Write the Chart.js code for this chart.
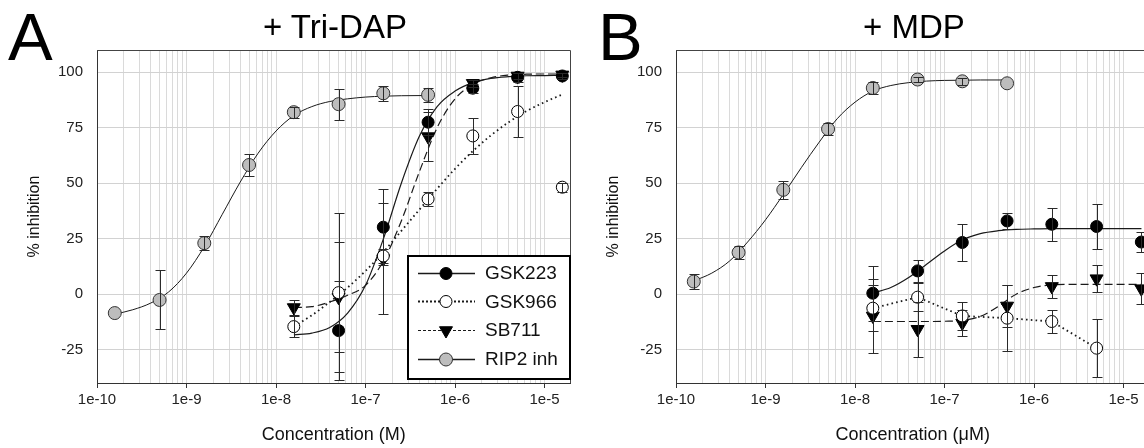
<!DOCTYPE html>
<html>
<head>
<meta charset="utf-8">
<script src="https://cdn.jsdelivr.net/npm/chart.js@4.4.1/dist/chart.umd.min.js"></script>
<style>
html,body{margin:0;padding:0;background:#fff;overflow:hidden;}
body{width:1144px;height:448px;position:relative;font-family:"Liberation Sans",Arial,sans-serif;}
.panel{position:absolute;top:0;width:579px;height:448px;}
.letter{position:absolute;font-size:67px;line-height:67px;top:3px;color:#000;}
.ptitle{position:absolute;font-size:33px;line-height:33px;top:10px;transform:translateX(-50%);white-space:nowrap;color:#000;}
</style>
</head>
<body>
<div class="panel" style="left:0"><canvas id="cA" width="579" height="448"></canvas></div>
<div class="panel" style="left:579px"><canvas id="cB" width="579" height="448"></canvas></div>
<div class="letter" style="left:8px">A</div>
<div class="letter" style="left:598px">B</div>
<div class="ptitle" style="left:335px">+ Tri-DAP</div>
<div class="ptitle" style="left:914px">+ MDP</div>
<script>
// ---------- data ----------
const SERIES = ['GSK223', 'GSK966', 'SB711', 'RIP2 inh'];
const X_TICK_LABELS = ['1e-10', '1e-9', '1e-8', '1e-7', '1e-6', '1e-5'];
const Y_TICKS = [-25, 0, 25, 50, 75, 100];

// Panel A (+ Tri-DAP): measured points, errors
const A_RIP2_X = [1.58e-10, 5e-10, 1.58e-9, 5e-9, 1.58e-8, 5e-8, 1.58e-7, 5e-7];
const A_RIP2_Y = [-8.5, -2.6, 23, 58.2, 82, 85.6, 90.5, 89.8];
const A_RIP2_E = [0, 13.3, 3, 5, 2.5, 7, 3.3, 3];
const A_GSK223_X = [5e-8, 1.58e-7, 5e-7, 1.58e-6, 5e-6, 1.58e-5];
const A_GSK223_Y = [-16.4, 30.2, 77.5, 92.8, 97.7, 98.3];
const A_GSK223_E = [22.2, 17, 6, 2, 2, 1.5];
const A_GSK966_X = [1.58e-8, 5e-8, 1.58e-7, 5e-7, 1.58e-6, 5e-6, 1.58e-5];
const A_GSK966_Y = [-14.6, 0.7, 17.2, 42.9, 71.3, 82.3, 48.2];
const A_GSK966_E = [4.8, 35.8, 3, 3.2, 8, 11.7, 2];
const A_SB711_X = [1.58e-8, 5e-8, 1.58e-7, 5e-7, 1.58e-6, 5e-6, 1.58e-5];
const A_SB711_Y = [-6, -1.4, 16, 71, 95, 98.3, 98.8];
const A_SB711_E = [3.3, 24.8, 25, 11, 1.5, 1.5, 1];

// Panel A fitted curves (x as log10 concentration)
const A_RIP2_FIT_LOGX = [-9.8, -9.6, -9.4, -9.2, -9.0, -8.8, -8.6, -8.4, -8.2, -8.0, -7.8, -7.6, -7.4, -7.2, -7.0, -6.8, -6.6, -6.3];
const A_RIP2_FIT_Y = [-9, -7, -4, 1, 9.5, 21.5, 36, 50.5, 63.5, 73.5, 80.5, 84.5, 86.8, 88, 88.8, 89.2, 89.4, 89.5];
const FIT_LOGX_HI = [-7.8, -7.6, -7.4, -7.2, -7.0, -6.8, -6.6, -6.4, -6.2, -6.0, -5.8, -5.6, -5.4, -5.2, -5.0, -4.8];
const A_GSK223_FIT_Y = [-18.3, -17.5, -15, -8.5, 4, 25, 50, 71, 84.5, 91.5, 95.3, 97.2, 98, 98.4, 98.5, 98.6];
const A_GSK966_FIT_Y = [-14.5, -9.5, -3.5, 3, 10.5, 19, 28.5, 38, 47.5, 56.5, 64.5, 71.5, 77.5, 82.5, 86.5, 90];
const A_SB711_FIT_Y = [-6, -5.6, -3.5, -0.5, 4, 15, 33, 55, 75, 88, 94.5, 97.5, 98.7, 99.1, 99.2, 99.2];

// Panel B (+ MDP)
const B_RIP2_X = [1.58e-10, 5e-10, 1.58e-9, 5e-9, 1.58e-8, 5e-8, 1.58e-7, 5e-7];
const B_RIP2_Y = [5.7, 18.8, 47, 74.4, 92.9, 96.7, 95.9, 95.0];
const B_RIP2_E = [3.3, 3, 4, 2.5, 2.5, 1, 1.5, 0];
const B_GSK223_X = [1.58e-8, 5e-8, 1.58e-7, 5e-7, 1.58e-6, 5e-6, 1.58e-5];
const B_GSK223_Y = [0.45, 10.5, 23.3, 33, 31.5, 30.5, 23.5];
const B_GSK223_E = [12.3, 5, 8.2, 3.5, 7.5, 10, 4.5];
const B_GSK966_X = [1.58e-8, 5e-8, 1.58e-7, 5e-7, 1.58e-6, 5e-6];
const B_GSK966_Y = [-6.3, -1.35, -9.8, -10.8, -12.3, -24.3];
const B_GSK966_E = [10.5, 6.2, 6.3, 15, 5, 13];
const B_SB711_X = [1.58e-8, 5e-8, 1.58e-7, 5e-7, 1.58e-6, 5e-6, 1.58e-5];
const B_SB711_Y = [-9.8, -15.8, -13, -5.3, 3.5, 7, 2.5];
const B_SB711_E = [16.5, 12.3, 5.8, 9.5, 5, 6, 7];

const B_RIP2_FIT_LOGX = [-9.8, -9.6, -9.4, -9.2, -9.0, -8.8, -8.6, -8.4, -8.2, -8.0, -7.8, -7.6, -7.4, -7.2, -7.0, -6.8, -6.6, -6.3];
const B_RIP2_FIT_Y = [6, 9.5, 15, 23.5, 33.5, 45, 57, 68.5, 79, 86.5, 91.5, 94, 95.3, 96, 96.3, 96.4, 96.5, 96.5];
const B_GSK223_FIT_Y = [0.5, 3, 7.5, 13.5, 19.5, 24.5, 27.3, 28.6, 29.2, 29.4, 29.5, 29.5, 29.5, 29.5, 29.5, 29.5];
const B_SB711_FIT_Y = [-12.3, -12.3, -12.3, -12.3, -12.2, -11.8, -10, -5.5, 0, 3, 4.2, 4.4, 4.4, 4.4, 4.4, 4.4];

// ---------- styles ----------
const FONT = '"Liberation Sans", Arial, sans-serif';
const STYLE = {
  'GSK223':   {pointStyle: 'circle',   radius: 6,   rotation: 0,   fill: '#000',    stroke: '#000', dash: [],     lw: 1.2, legDash: [],     legLw: 1.3},
  'GSK966':   {pointStyle: 'circle',   radius: 6,   rotation: 0,   fill: '#fff',    stroke: '#000', dash: [1.6, 3.2], lw: 1.8, legDash: [2, 2], legLw: 2},
  'SB711':    {pointStyle: 'triangle', radius: 7.5, rotation: 180, fill: '#000',    stroke: '#000', dash: [8, 4], lw: 1.2, legDash: [3, 2], legLw: 1},
  'RIP2 inh': {pointStyle: 'circle',   radius: 6.5, rotation: 0,   fill: '#bdbdbd', stroke: '#333', dash: [],     lw: 1,   legDash: [],     legLw: 1.3}
};

function pts(xs, ys) { return xs.map((x, i) => ({x: x, y: ys[i]})); }
function fitPts(lx, ys) { return lx.map((l, i) => ({x: Math.pow(10, l), y: ys[i]})); }

function fitDs(name, data) {
  const s = STYLE[name];
  return {label: name + ' fit', data: data, showLine: true, pointRadius: 0, pointHoverRadius: 0,
    borderColor: '#1a1a1a', borderWidth: s.lw, borderDash: s.dash, fill: false,
    cubicInterpolationMode: 'monotone', order: 2};
}
function lineDs(name, data) {
  const s = STYLE[name];
  return {label: name + ' line', data: data, showLine: true, pointRadius: 0, pointHoverRadius: 0,
    borderColor: '#1a1a1a', borderWidth: s.lw, borderDash: s.dash, fill: false, tension: 0, order: 2};
}
function ptDs(name, data, errs) {
  const s = STYLE[name];
  return {label: name, data: data, showLine: false, pointStyle: s.pointStyle, pointRadius: s.radius,
    pointHoverRadius: s.radius, pointRotation: s.rotation, pointBackgroundColor: s.fill,
    pointBorderColor: s.stroke, pointBorderWidth: 1, errors: errs, order: 1};
}

// ---------- plugins ----------
const errorBars = {
  id: 'errorBars',
  afterDatasetsDraw(chart) {
    const ctx = chart.ctx, xs = chart.scales.x, ys = chart.scales.y, ca = chart.chartArea;
    ctx.save();
    ctx.beginPath(); ctx.rect(ca.left, ca.top, ca.right - ca.left, ca.bottom - ca.top); ctx.clip();
    ctx.strokeStyle = '#2a2a2a'; ctx.lineWidth = 1; ctx.setLineDash([]);
    chart.data.datasets.forEach(ds => {
      if (!ds.errors) return;
      ds.data.forEach((p, i) => {
        const e = ds.errors[i];
        if (!e) return;
        const x = Math.round(xs.getPixelForValue(p.x)) + 0.5;
        const y1 = Math.round(ys.getPixelForValue(p.y + e)) + 0.5;
        const y2 = Math.round(ys.getPixelForValue(p.y - e)) + 0.5;
        ctx.beginPath();
        ctx.moveTo(x, y1); ctx.lineTo(x, y2);
        ctx.moveTo(x - 5, y1); ctx.lineTo(x + 5, y1);
        ctx.moveTo(x - 5, y2); ctx.lineTo(x + 5, y2);
        ctx.stroke();
      });
    });
    ctx.restore();
  }
};

const frame = {
  id: 'frame',
  afterDraw(chart) {
    const ctx = chart.ctx, ca = chart.chartArea;
    ctx.save();
    ctx.strokeStyle = '#444'; ctx.lineWidth = 1; ctx.setLineDash([]);
    ctx.beginPath();
    ctx.moveTo(ca.left, Math.round(ca.top) + 0.5);
    ctx.lineTo(Math.round(ca.right) - 0.5, Math.round(ca.top) + 0.5);
    ctx.lineTo(Math.round(ca.right) - 0.5, ca.bottom);
    ctx.stroke();
    ctx.restore();
  }
};

function drawMarker(ctx, s, x, y) {
  ctx.fillStyle = s.fill; ctx.strokeStyle = s.stroke; ctx.lineWidth = 1; ctx.setLineDash([]);
  if (window.Chart && Chart.helpers && Chart.helpers.drawPoint) {
    Chart.helpers.drawPoint(ctx, {pointStyle: s.pointStyle, radius: s.radius, rotation: s.rotation, borderWidth: 1}, x, y);
  } else {
    ctx.beginPath(); ctx.arc(x, y, s.radius, 0, Math.PI * 2); ctx.fill(); ctx.stroke();
  }
}

const boxLegend = {
  id: 'boxLegend',
  afterDraw(chart) {
    const ctx = chart.ctx, ca = chart.chartArea;
    const right = Math.round(ca.right), left = right - 164;
    const bottom = Math.round(ca.bottom) - 3, top = bottom - 125;
    ctx.save();
    ctx.fillStyle = '#fff';
    ctx.fillRect(left, top, right - left, bottom - top);
    ctx.strokeStyle = '#000'; ctx.lineWidth = 2; ctx.setLineDash([]);
    ctx.strokeRect(left + 1, top + 1, right - left - 2, bottom - top - 2);
    SERIES.forEach((name, i) => {
      const s = STYLE[name];
      const y = top + 17.5 + i * 28.8;
      ctx.strokeStyle = '#1a1a1a'; ctx.lineWidth = s.legLw; ctx.setLineDash(s.legDash);
      ctx.beginPath(); ctx.moveTo(left + 11, Math.round(y) + 0.5); ctx.lineTo(left + 68, Math.round(y) + 0.5); ctx.stroke();
      drawMarker(ctx, s, left + 39, Math.round(y) + 0.5);
      ctx.setLineDash([]);
      ctx.fillStyle = '#111';
      ctx.font = '19px ' + FONT;
      ctx.textAlign = 'left'; ctx.textBaseline = 'middle';
      ctx.fillText(name, left + 78, y + 1);
    });
    ctx.restore();
  }
};

// ---------- chart config ----------
function xTicks(max) {
  const out = [];
  X_TICK_LABELS.forEach(lab => {
    const d = Number(lab);
    for (let s = 1; s <= 9; s++) {
      const v = s * d;
      if (v <= max * 1.0000001) out.push({value: v, major: s === 1});
    }
  });
  return out;
}
function xLabel(v) {
  const idx = X_TICK_LABELS.findIndex(l => Math.abs(Number(l) - v) / v < 1e-6);
  return idx >= 0 ? X_TICK_LABELS[idx] : '';
}

function makeOptions(xTitle) {
  const XMAX = 1.95e-5;
  return {
    responsive: false, animation: false, devicePixelRatio: 1,
    events: [],
    layout: {padding: {top: 50, right: 6, left: 0, bottom: 0}},
    plugins: {legend: {display: false}, tooltip: {enabled: false}, title: {display: false}},
    scales: {
      x: {
        type: 'logarithmic', min: 1e-10, max: XMAX,
        afterBuildTicks: s => { s.ticks = xTicks(XMAX); },
        afterFit: s => { s.height = 65; },
        ticks: {autoSkip: false, maxRotation: 0, minRotation: 0, padding: 3, color: '#222',
          font: {family: FONT, size: 15}, callback: (v) => xLabel(v)},
        grid: {color: '#dadada', lineWidth: 1, tickLength: 5,
          tickColor: c => (c.tick && c.tick.major) ? '#333' : 'rgba(0,0,0,0)'},
        border: {display: true, color: '#333', width: 1},
        title: {display: true, text: xTitle, color: '#111', font: {family: FONT, size: 18}, padding: {top: 0, bottom: 2}}
      },
      y: {
        type: 'linear', min: -40, max: 110,
        afterBuildTicks: s => { s.ticks = Y_TICKS.map(v => ({value: v})); },
        afterFit: s => { s.width = 97; },
        ticks: {padding: 14, color: '#222', font: {family: FONT, size: 15}, callback: v => String(v)},
        grid: {color: '#d2d2d2', lineWidth: 1, drawTicks: false},
        border: {display: true, color: '#333', width: 1},
        title: {display: true, text: '% inhibition', color: '#111', font: {family: FONT, size: 16}, padding: {top: 25, bottom: 0}}
      }
    }
  };
}

new Chart(document.getElementById('cA'), {
  type: 'scatter',
  data: {datasets: [
    fitDs('RIP2 inh', fitPts(A_RIP2_FIT_LOGX, A_RIP2_FIT_Y)),
    fitDs('GSK223', fitPts(FIT_LOGX_HI, A_GSK223_FIT_Y)),
    fitDs('GSK966', fitPts(FIT_LOGX_HI, A_GSK966_FIT_Y)),
    fitDs('SB711', fitPts(FIT_LOGX_HI, A_SB711_FIT_Y)),
    ptDs('RIP2 inh', pts(A_RIP2_X, A_RIP2_Y), A_RIP2_E),
    ptDs('GSK223', pts(A_GSK223_X, A_GSK223_Y), A_GSK223_E),
    ptDs('GSK966', pts(A_GSK966_X, A_GSK966_Y), A_GSK966_E),
    ptDs('SB711', pts(A_SB711_X, A_SB711_Y), A_SB711_E)
  ]},
  options: makeOptions('Concentration (M)'),
  plugins: [errorBars, frame, boxLegend]
});

new Chart(document.getElementById('cB'), {
  type: 'scatter',
  data: {datasets: [
    fitDs('RIP2 inh', fitPts(B_RIP2_FIT_LOGX, B_RIP2_FIT_Y)),
    fitDs('GSK223', fitPts(FIT_LOGX_HI, B_GSK223_FIT_Y)),
    fitDs('SB711', fitPts(FIT_LOGX_HI, B_SB711_FIT_Y)),
    lineDs('GSK966', pts(B_GSK966_X, B_GSK966_Y)),
    ptDs('RIP2 inh', pts(B_RIP2_X, B_RIP2_Y), B_RIP2_E),
    ptDs('GSK223', pts(B_GSK223_X, B_GSK223_Y), B_GSK223_E),
    ptDs('GSK966', pts(B_GSK966_X, B_GSK966_Y), B_GSK966_E),
    ptDs('SB711', pts(B_SB711_X, B_SB711_Y), B_SB711_E)
  ]},
  options: makeOptions('Concentration (\u03BCM)'),
  plugins: [errorBars, frame]
});
</script>
</body>
</html>
